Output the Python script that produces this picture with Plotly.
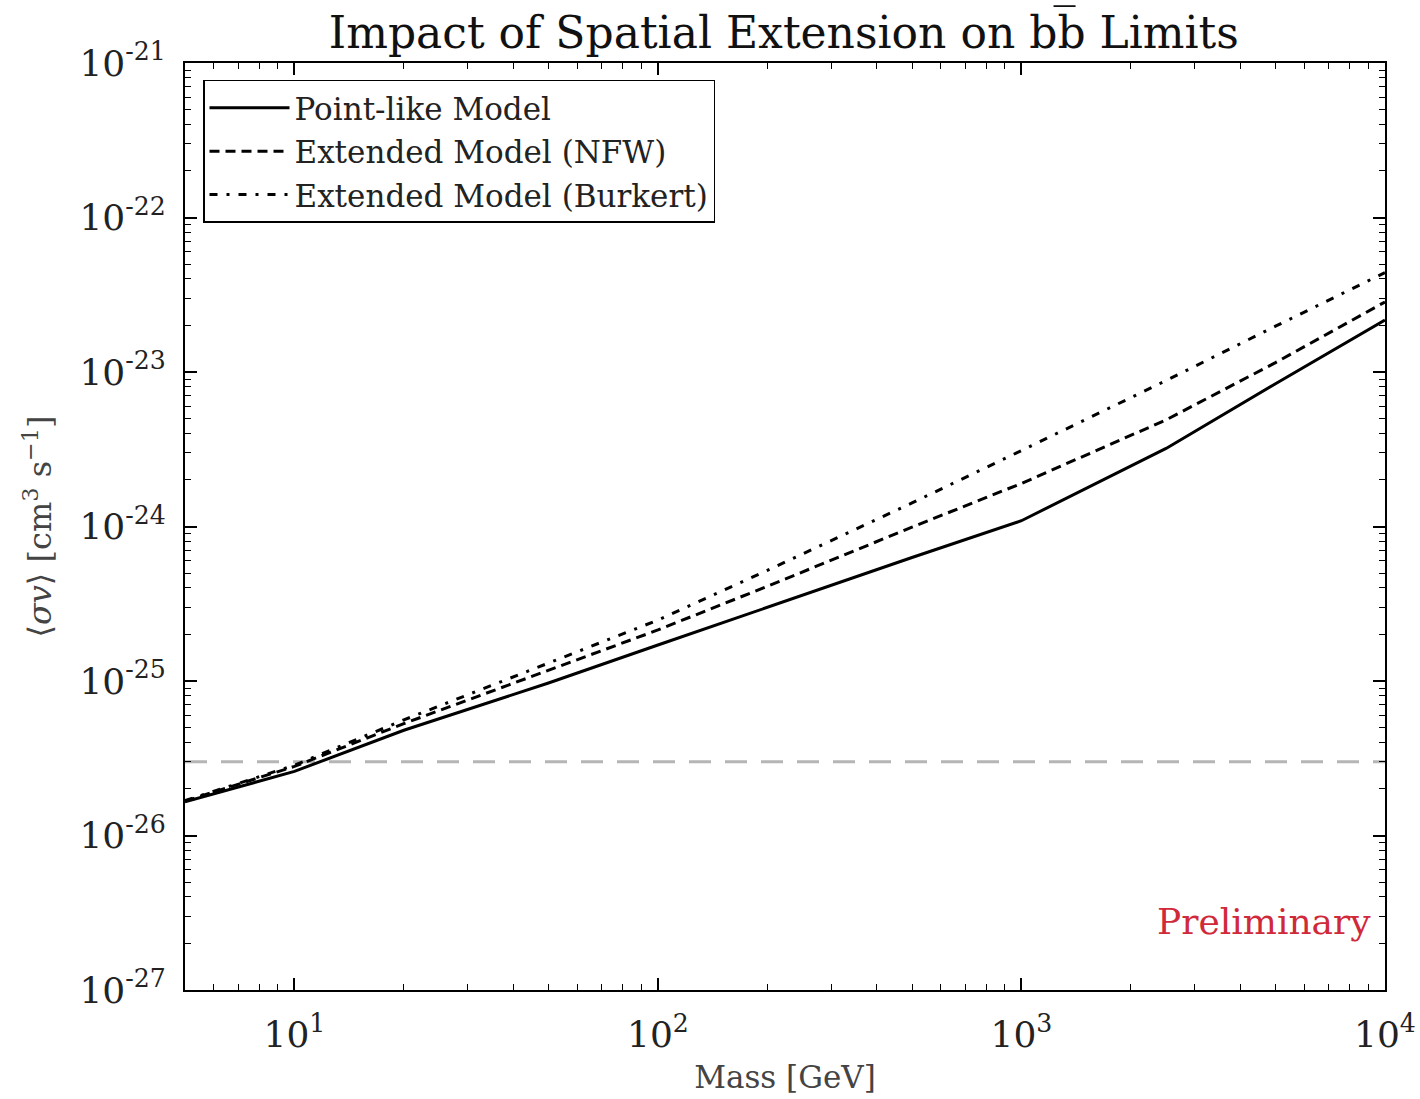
import plotly.graph_objects as go

mass = [5, 10, 20, 50, 100, 200, 500, 1000, 2500, 5000, 10000]
point_like = [1.65e-26, 2.6e-26, 4.8e-26, 9.7e-26, 1.71e-25, 3.0e-25, 6.3e-25, 1.09e-24, 3.2e-24, 8.4e-24, 2.17e-23]
nfw = [1.67e-26, 2.8e-26, 5.3e-26, 1.18e-25, 2.14e-25, 4.1e-25, 9.9e-25, 1.9e-24, 4.9e-24, 1.15e-23, 2.84e-23]
burkert = [1.68e-26, 2.85e-26, 5.6e-26, 1.3e-25, 2.48e-25, 5.2e-25, 1.42e-24, 3.1e-24, 8.8e-24, 1.98e-23, 4.4e-23]
thermal_relic = 3e-26
x_range = [5, 10000]

x_tickvals = [10, 100, 1000, 10000]
x_ticktext = ["10<sup>1</sup>", "10<sup>2</sup>", "10<sup>3</sup>", "10<sup>4</sup>"]
y_tickvals = [1e-27, 1e-26, 1e-25, 1e-24, 1e-23, 1e-22, 1e-21]
y_ticktext = ["10<sup>-27</sup>", "10<sup>-26</sup>", "10<sup>-25</sup>", "10<sup>-24</sup>",
              "10<sup>-23</sup>", "10<sup>-22</sup>", "10<sup>-21</sup>"]

FONT = "DejaVu Serif"

fig = go.Figure()
fig.add_trace(go.Scatter(x=x_range, y=[thermal_relic, thermal_relic], mode="lines",
                         line=dict(color="#b5b5b5", width=3, dash="22px,14px"),
                         showlegend=False, hoverinfo="skip"))
fig.add_trace(go.Scatter(x=mass, y=point_like, mode="lines", name="Point-like Model",
                         line=dict(color="black", width=3)))
fig.add_trace(go.Scatter(x=mass, y=nfw, mode="lines", name="Extended Model (NFW)",
                         line=dict(color="black", width=3, dash="10px,6px")))
fig.add_trace(go.Scatter(x=mass, y=burkert, mode="lines", name="Extended Model (Burkert)",
                         line=dict(color="black", width=3, dash="8px,9px,3px,9px")))

axis_common = dict(
    type="log", showgrid=False, zeroline=False, showline=True, linecolor="black",
    linewidth=2, mirror="allticks", ticks="inside", ticklen=12, tickwidth=1.5,
    tickcolor="black", tickmode="array", automargin=False,
    tickfont=dict(family=FONT, size=36, color="#222"),
    minor=dict(ticks="inside", ticklen=6, tickcolor="black", tickwidth=1, showgrid=False,
               dtick="D1"),
)

fig.update_layout(
    width=1420, height=1099,
    margin=dict(l=185, r=35, t=63, b=109),
    paper_bgcolor="white", plot_bgcolor="white",
    title=dict(text="Impact of Spatial Extension on bb\u0305 Limits", x=0.552, xanchor="center",
               y=0.97, yanchor="middle", font=dict(family=FONT, size=44, color="#111")),
    xaxis=dict(axis_common, range=[0.69897, 4.0002], tickvals=x_tickvals, ticktext=x_ticktext,
               ticklabelstandoff=12,
               title=dict(text="Mass [GeV]", font=dict(family=FONT, size=31, color="#444"), standoff=12)),
    yaxis=dict(axis_common, range=[-27, -21], tickvals=y_tickvals, ticktext=y_ticktext,
               ticklabelstandoff=10,
               title=dict(text="\u27e8<i>\u03c3v</i>\u27e9 [cm<sup>3</sup> s<sup>\u22121</sup>]",
                          font=dict(family=FONT, size=32, color="#444"), standoff=18)),
    legend=dict(x=0.015, y=0.982, xanchor="left", yanchor="top", bgcolor="white",
                bordercolor="black", borderwidth=1.5, itemwidth=80,
                font=dict(family=FONT, size=31, color="#222"), tracegroupgap=0),
    showlegend=True,
)

fig.add_annotation(x=0.99, y=0.05, xref="paper", yref="paper", xanchor="right", yanchor="bottom",
                   text="Preliminary", showarrow=False,
                   font=dict(family=FONT, size=36, color="#d0293a"))

fig.write_html("out.html")
